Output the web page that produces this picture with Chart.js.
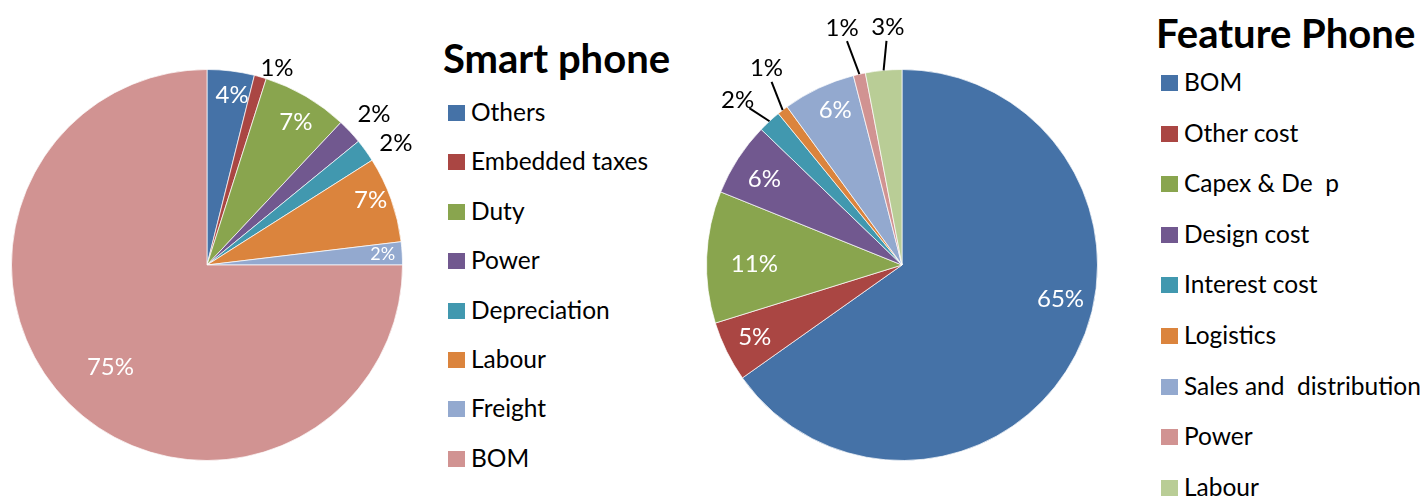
<!DOCTYPE html>
<html>
<head>
<meta charset="utf-8">
<script src="https://cdn.jsdelivr.net/npm/chart.js@4.4.1/dist/chart.umd.min.js"></script>
<style>
  body { margin: 0; background: #fff; width: 1428px; height: 497px; overflow: hidden; position: relative; font-family: Lato, "Open Sans", sans-serif; }
  canvas { position: absolute; top: 0; }
  .title { position: absolute; font-weight: bold; font-size: 40px; line-height: 40px; color: #000; white-space: pre; }
  .box { position: absolute; width: 17px; height: 16px; }
  .item { position: absolute; font-size: 24.5px; line-height: 24.5px; color: #000; white-space: pre; }
</style>
</head>
<body>
<canvas id="smartChart" width="440" height="497" style="left:0px"></canvas>
<canvas id="featureChart" width="440" height="497" style="left:680px"></canvas>
<div id="legends"></div>
<script>
// Smart phone cost split (%), clockwise from 12 o'clock
var smartLabels = ["Others", "Embedded taxes", "Duty", "Power", "Depreciation", "Labour", "Freight", "BOM"];
var smartValues = [3.9, 1.0, 7.1, 2.1, 1.9, 7.1, 1.9, 75.0];

// Feature phone cost split (%)
var featureLabels = ["BOM", "Other cost", "Capex & De  p", "Design cost", "Interest cost", "Logistics", "Sales and  distribution", "Power", "Labour"];
var featureValues = [65.2, 5.0, 10.9, 6.1, 1.9, 0.9, 6.0, 1.0, 3.0];

var smartColors = ['#4572A7', '#AA4643', '#89A54E', '#71588F', '#4198AF', '#DB843D', '#93A9CF', '#D19392'];
var featureColors = ['#4572A7', '#AA4643', '#89A54E', '#71588F', '#4198AF', '#DB843D', '#93A9CF', '#D19392', '#B9CD96'];

// label placement per slice: radius factor, outside?, angle shift (deg), leader line?, font size
var smartLabelStyle = [
     { r: 0.88, out: false, shift: 1.4, size: 24 },
     { r: 1.07, out: true, shift: 3.7, size: 24 },
     { r: 0.86, out: false, shift: 1.5, size: 24 },
     { r: 1.15, out: true, shift: 1, size: 24 },
     { r: 1.15, out: true, shift: 3, size: 24 },
     { r: 0.90, out: false, shift: -2, size: 24 },
     { r: 0.90, out: false, shift: 0, size: 18 },
     { r: 0.72, out: false, shift: -1.7, size: 24 }
];
var featureLabelStyle = [
     { r: 0.83, out: false, shift: -15, size: 24 },
     { r: 0.84, out: false, shift: 0, size: 24 },
     { r: 0.755, out: false, shift: -2, size: 24 },
     { r: 0.83, out: false, shift: -1, size: 24 },
     { r: 1.19, out: true, shift: -2.3, size: 24, leader: true },
     { r: 1.22, out: true, shift: 3, size: 24, leader: true },
     { r: 0.86, out: false, shift: 1.8, size: 24 },
     { r: 1.25, out: true, shift: -1.6, size: 24, leader: true },
     { r: 1.22, out: true, shift: 2, size: 24, leader: true }
];

var pctLabels = {
     id: 'pctLabels',
     afterDatasetsDraw: function(chart, args, opts) {
          var ctx = chart.ctx;
          var meta = chart.getDatasetMeta(0);
          var values = chart.data.datasets[0].data;
          meta.data.forEach(function(arc, i) {
               var st = opts.styles[i];
               var p = arc.getProps(['x', 'y', 'startAngle', 'endAngle', 'outerRadius'], true);
               var a = (p.startAngle + p.endAngle) / 2 + st.shift * Math.PI / 180;
               var lx = p.x + Math.cos(a) * p.outerRadius * st.r;
               var ly = p.y + Math.sin(a) * p.outerRadius * st.r;
               ctx.save();
               if (st.leader) {
                    var ma = (p.startAngle + p.endAngle) / 2;
                    var ex = p.x + Math.cos(ma) * p.outerRadius;
                    var ey = p.y + Math.sin(ma) * p.outerRadius;
                    var dx = ex - lx, dy = ey - ly;
                    var d = Math.sqrt(dx * dx + dy * dy);
                    ctx.strokeStyle = '#000';
                    ctx.lineWidth = 2;
                    ctx.beginPath();
                    ctx.moveTo(ex, ey);
                    ctx.lineTo(lx + dx / d * 14, ly + dy / d * 14);
                    ctx.stroke();
               }
               ctx.fillStyle = st.out ? '#000' : '#fff';
               ctx.font = st.size + 'px Lato, "Open Sans", sans-serif';
               ctx.textAlign = 'center';
               ctx.textBaseline = 'middle';
               ctx.fillText(Math.round(values[i]) + '%', lx, ly);
               ctx.restore();
          });
     }
};

function pieChart(idName, labels, values, colors, styles, pad) {
     return new Chart(idName, {
          type: 'pie',
          data: {
               labels: labels,
               datasets: [{
                    data: values,
                    backgroundColor: colors,
                    borderColor: 'rgba(255,255,255,0.7)',
                    borderWidth: 1
               }]
          },
          options: {
               responsive: false,
               animation: false,
               layout: { padding: pad },
               plugins: {
                    legend: { display: false },
                    tooltip: { enabled: false },
                    pctLabels: { styles: styles }
               }
          },
          plugins: [pctLabels]
     });
}

pieChart('smartChart', smartLabels, smartValues, smartColors, smartLabelStyle, { left: 11, right: 37, top: 69, bottom: 36 });
pieChart('featureChart', featureLabels, featureValues, featureColors, featureLabelStyle, { left: 26, right: 22, top: 69, bottom: 36 });

function legend(title, labels, colors, x, titleTop, firstCenter, step) {
     var holder = document.getElementById('legends');
     var t = document.createElement('div');
     t.className = 'title';
     t.textContent = title;
     t.style.left = (x - 5) + 'px';
     t.style.top = titleTop + 'px';
     holder.appendChild(t);
     labels.forEach(function(lab, i) {
          var cy = firstCenter + i * step;
          var b = document.createElement('div');
          b.className = 'box';
          b.style.background = colors[i];
          b.style.left = x + 'px';
          b.style.top = (cy - 8) + 'px';
          holder.appendChild(b);
          var s = document.createElement('div');
          s.className = 'item';
          s.textContent = lab;
          s.style.left = (x + 23) + 'px';
          s.style.top = (cy - 13) + 'px';
          holder.appendChild(s);
     });
}

legend('Smart phone', smartLabels, smartColors, 448, 38, 113, 49.4);
legend('Feature Phone', featureLabels, featureColors, 1161, 13, 83, 50.6);
</script>
</body>
</html>
